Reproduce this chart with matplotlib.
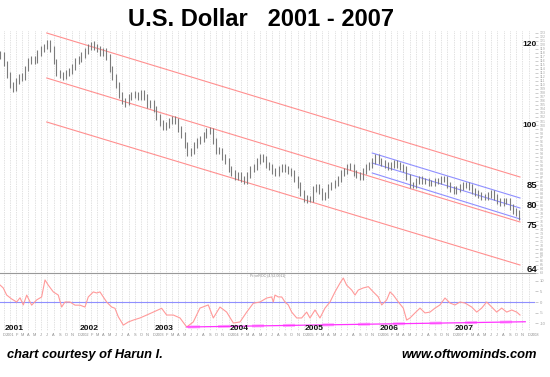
import matplotlib
matplotlib.use('Agg')
import matplotlib.pyplot as plt
import matplotlib.transforms as mtransforms
import numpy as np
import pandas as pd

plt.rcParams['font.family'] = ['Liberation Sans', 'DejaVu Sans']

# ---------------- data ----------------
title = 'U.S. Dollar   2001 - 2007'
credit_left = 'chart courtesy of Harun I.'
credit_right = 'www.oftwominds.com'

bar_start = '2000-11-15'   # semi-monthly bars
price_high = [118.6, 118.2, 116.1, 113.2, 110.8, 111.7, 112.8, 113.0, 114.7, 116.8,
              117.3, 117.2, 118.7, 119.8, 120.3, 121.3, 121.2, 119.7, 116.6, 113.8,
              113.3, 113.8, 114.3, 115.2, 116.7, 117.3, 118.2, 119.3, 120.3, 120.8,
              120.9, 120.3, 119.8, 119.2, 119.3, 117.7, 114.8, 112.7, 110.8, 108.3,
              106.7, 107.8, 108.3, 108.4, 108.3, 108.8, 108.7, 107.8, 106.3, 106.2,
              104.8, 102.7, 101.3, 100.8, 101.8, 102.3, 102.3, 101.8, 99.7, 98.3,
              95.7, 94.3, 95.8, 96.8, 97.3, 98.3, 99.3, 99.6, 99.2, 96.7,
              94.4, 94.2, 92.8, 91.7, 89.8, 88.7, 88.3, 88.2, 87.3, 88.3,
              89.7, 90.3, 91.7, 92.8, 92.7, 92.2, 90.8, 90.2, 89.3, 89.7,
              90.3, 90.2, 89.8, 89.3, 88.7, 87.2, 85.7, 83.7, 82.4, 82.3,
              84.7, 85.3, 85.2, 84.2, 83.3, 85.2, 85.7, 86.2, 87.2, 88.7,
              89.2, 90.2, 90.4, 90.2, 88.7, 88.2, 89.2, 90.2, 90.7, 91.7,
              92.7, 92.8, 91.7, 91.2, 90.7, 90.7, 91.2, 91.2, 90.7, 90.2,
              89.7, 87.7, 85.8, 86.7, 87.2, 87.2, 86.8, 86.7, 86.3, 86.7,
              86.8, 87.2, 87.3, 87.2, 85.7, 84.7, 84.7, 85.2, 85.7, 85.8,
              85.7, 85.2, 84.2, 83.7, 83.2, 82.8, 83.2, 83.7, 83.7, 82.7,
              81.7, 81.7, 81.8, 81.7, 80.2, 79.2, 78.7]
price_low = [116.6, 114.8, 111.8, 109.3, 108.2, 108.4, 110.3, 111.1, 111.3, 113.4,
             115.2, 115.3, 115.4, 117.3, 118.2, 118.9, 118.3, 115.3, 112.3, 111.7,
             111.2, 111.4, 112.2, 112.8, 113.8, 115.2, 115.8, 116.8, 117.8, 118.8,
             118.7, 118.2, 117.2, 117.3, 116.2, 113.3, 111.2, 109.3, 106.8, 105.2,
             104.6, 104.9, 106.2, 106.7, 106.2, 106.3, 106.2, 104.3, 104.2, 103.3,
             101.2, 99.8, 98.7, 98.8, 99.3, 100.2, 100.2, 98.3, 96.8, 94.3,
             92.2, 92.3, 92.8, 94.2, 95.3, 95.8, 96.8, 97.7, 95.3, 92.8,
             92.7, 91.3, 90.2, 88.3, 87.2, 86.3, 86.2, 85.8, 85.2, 85.3,
             86.8, 88.2, 88.8, 90.2, 90.7, 89.3, 88.7, 87.8, 87.2, 87.3,
             88.2, 88.2, 87.7, 87.2, 85.8, 84.3, 82.3, 80.8, 80.6, 80.7,
             80.8, 83.2, 82.8, 81.3, 81.2, 81.8, 83.8, 84.3, 84.8, 85.8,
             87.3, 87.8, 88.7, 87.3, 86.8, 86.3, 86.3, 87.8, 88.8, 89.3,
             90.3, 90.3, 89.8, 89.3, 88.8, 88.8, 89.3, 89.3, 88.8, 88.3,
             86.3, 84.3, 84.2, 84.3, 85.3, 85.3, 85.2, 84.8, 84.7, 84.8,
             85.2, 85.3, 85.7, 84.3, 83.3, 82.8, 82.8, 83.3, 83.8, 84.2,
             83.8, 82.8, 82.3, 81.8, 81.3, 81.2, 81.3, 81.8, 81.3, 80.3,
             79.8, 79.8, 80.2, 78.8, 77.8, 77.3, 76.3]

# regression channels (fractional year, value)
red_t = [2001.49, 2007.80]
red_upper = [123.0, 87.0]
red_mid = [111.75, 75.75]
red_lower = [100.75, 65.0]
blue_t = [2005.83, 2007.80]
blue_upper = [93.0, 81.75]
blue_mid = [90.5, 79.25]
blue_lower = [88.0, 76.5]

price_big_labels = [120, 100, 85, 80, 75, 64]
price_big_sizes = [6.0, 6.0, 6.8, 6.8, 6.8, 6.8]

# lower indicator (Price ROC)
roc_t = [2000.867, 2000.91, 2000.956, 2001.02, 2001.089, 2001.134, 2001.178, 2001.223,
         2001.289, 2001.356, 2001.422, 2001.467, 2001.511, 2001.578, 2001.644, 2001.689,
         2001.733, 2001.8, 2001.867, 2001.933, 2002.0, 2002.044, 2002.111, 2002.156,
         2002.2, 2002.244, 2002.289, 2002.356, 2002.4, 2002.444, 2002.511, 2002.578,
         2002.644, 2002.733, 2002.823, 2002.911, 2003.022, 2003.089, 2003.178, 2003.267,
         2003.356, 2003.444, 2003.533, 2003.644, 2003.711, 2003.8, 2003.889, 2003.978,
         2004.067, 2004.156, 2004.244, 2004.333, 2004.423, 2004.489, 2004.511, 2004.533,
         2004.578, 2004.623, 2004.667, 2004.711, 2004.756, 2004.823, 2004.889, 2004.956,
         2005.0, 2005.067, 2005.133, 2005.2, 2005.267, 2005.333, 2005.4, 2005.444,
         2005.489, 2005.556, 2005.6, 2005.644, 2005.711, 2005.778, 2005.844, 2005.911,
         2005.956, 2006.023, 2006.067, 2006.111, 2006.178, 2006.244, 2006.289, 2006.333,
         2006.4, 2006.467, 2006.533, 2006.6, 2006.667, 2006.733, 2006.8, 2006.867,
         2006.933, 2007.0, 2007.067, 2007.156, 2007.223, 2007.289, 2007.356, 2007.423,
         2007.489, 2007.556, 2007.623, 2007.689, 2007.756, 2007.8]
roc_v = [8.1, 6.7, 3.3, 1.5, 0.0, 2.0, -1.4, 3.3,
         -1.5, 1.0, 2.4, 10.5, 8.0, 4.8, 3.3, -2.4,
         0.0, 0.0, -1.5, -1.5, -2.4, 2.4, 4.8, 4.3,
         4.8, 2.4, 0.0, -2.4, -3.0, -7.0, -11.0, -9.5,
         -8.6, -7.6, -6.2, -4.8, -3.0, -6.2, -6.2, -7.6,
         -11.9, -9.5, -2.9, -1.4, -7.6, -2.4, -4.8, -10.0,
         -9.5, -4.8, -0.6, 0.0, 1.9, 2.4, 0.0, 3.3,
         2.4, 2.4, 0.0, -1.4, -4.8, -7.6, -7.6, -4.8,
         -7.6, -3.8, -7.6, -2.9, 0.0, 4.8, 9.0, 11.4,
         8.0, 5.7, 3.3, 5.7, 6.7, 7.3, 4.8, 2.4,
         -1.4, 1.0, 4.8, 3.3, 0.0, -2.9, -8.6, -7.6,
         -5.2, -2.9, -5.2, -4.8, -2.9, -1.4, 1.9, -0.5,
         -1.4, 0.0, -0.5, -2.4, -4.8, -2.9, 0.0, -2.4,
         -4.8, -2.9, -4.8, -3.8, -4.8, -6.2]
roc_ticks = [10, 5, 0, -5, -10]
support_t = [2003.36, 2007.87]
support_v = [-11.9, -9.4]
support_marks_t = [2003.454, 2003.854, 2004.307, 2004.72, 2005.24, 2005.72,
                   2006.187, 2006.68, 2007.147, 2007.613]
roc_caption = 'PriceROC (4,52,0011)'

year_labels = ['2001', '2002', '2003', '2004', '2005', '2006', '2007']
year_pos = [2001, 2002, 2003, 2004, 2005, 2006, 2007]

# ---------------- helpers ----------------
def frac_year(d):
    d = pd.DatetimeIndex(d)
    return d.year + (d.dayofyear - 1) / 365.25

bar_t = frac_year(pd.date_range(bar_start, periods=len(price_high), freq='SMS'))
months = pd.date_range('2000-12-01', '2008-01-01', freq='MS')
month_t = frac_year(months)
month_lab = [str(m.year) if m.month == 1 else 'JFMAMJJASOND'[m.month - 1] for m in months]

W, H = 550, 377
fig = plt.figure(figsize=(W / 100, H / 100), dpi=100)
fig.patch.set_facecolor('white')

x0, x1 = 2000.867, 2008.0
axw = 535 / W
ax = fig.add_axes([0, 1 - 273 / H, axw, (273 - 30) / H])
ax2 = fig.add_axes([0, 1 - 331 / H, axw, 58 / H])
for a in (ax, ax2):
    a.set_facecolor('none')
    a.set_xlim(x0, x1)
    for s in a.spines.values():
        s.set_visible(False)
    a.set_xticks(month_t)
    a.grid(axis='x', color='#c4c4c4', linestyle=(0, (1, 1.5)), linewidth=0.5)
    a.set_axisbelow(True)

ax.set_ylim(63.0, 123.75)
ax2.set_ylim(-13.8, 13.8)

# price bars
ax.vlines(bar_t, price_low, price_high, color='#7c7c7c', linewidth=0.8, zorder=3)

# channels
red = '#ff8f8f'
blue = '#8f8fff'
for v in (red_upper, red_mid, red_lower):
    ax.plot(red_t, v, color=red, linewidth=0.8, zorder=2)
for v in (blue_upper, blue_mid, blue_lower):
    ax.plot(blue_t, v, color=blue, linewidth=0.8, zorder=2)

# main axis ticks
ax.tick_params(axis='x', length=0, labelbottom=False)
ax.yaxis.tick_right()
ax.set_yticks(np.arange(63, 124))
ax.tick_params(axis='y', labelsize=2.6, colors='#a8a8a8', length=2, width=0.4, pad=1.5)
btr = mtransforms.blended_transform_factory(fig.transFigure, ax.transData)
for v, fs in zip(price_big_labels, price_big_sizes):
    ax.text(537 / W, v, str(v), transform=btr, ha='right', va='center',
            fontsize=fs, fontweight='bold', color='#111111', zorder=5)

# lower panel
ax2.axhline(0, color=blue, linewidth=0.8, zorder=2)
ax2.axhline(13.8, color='#999999', linewidth=0.8, zorder=2, clip_on=False)
ax2.plot(roc_t, roc_v, color='#ff9a9a', linewidth=0.8, zorder=3)
ax2.plot(support_t, support_v, color='#ff33ff', linewidth=0.9, zorder=3)
for c in support_marks_t:
    ts = [c - 0.08, c + 0.08]
    vs = np.interp(ts, support_t, support_v)
    ax2.plot(ts, vs, color='#ffaaff', linewidth=2.2, solid_capstyle='butt', zorder=2.5)
ax2.yaxis.tick_right()
ax2.set_yticks(roc_ticks)
ax2.set_yticklabels([str(v) for v in roc_ticks])
ax2.tick_params(axis='y', labelsize=3, colors='#a0a0a0', length=2, width=0.4, pad=1.5)
ax2.set_xticklabels(month_lab)
ax2.tick_params(axis='x', labelsize=2.8, colors='#8a8a8a', length=0, pad=1.5)
for lab, p in zip(year_labels, year_pos):
    ax2.text(p + 0.05, -13.3, lab, ha='center', va='baseline', fontsize=6,
             fontweight='bold', color='#111111', zorder=5)
ax2.text(2000.867 + 250 / 75, 12.3, roc_caption, fontsize=2.6, color='#888888',
         ha='left', va='center')

# titles / credits
fig.text(260.5 / W, 1 - 26 / H, title, ha='center', va='baseline',
         fontsize=17, fontweight='bold', color='black')
fig.text(7 / W, 1 - 358 / H, credit_left, ha='left', va='baseline',
         fontsize=9.3, fontweight='bold', fontstyle='italic', color='black')
fig.text(537 / W, 1 - 358 / H, credit_right, ha='right', va='baseline',
         fontsize=9.3, fontweight='bold', fontstyle='italic', color='black')

fig.savefig('out.png', dpi=100)
